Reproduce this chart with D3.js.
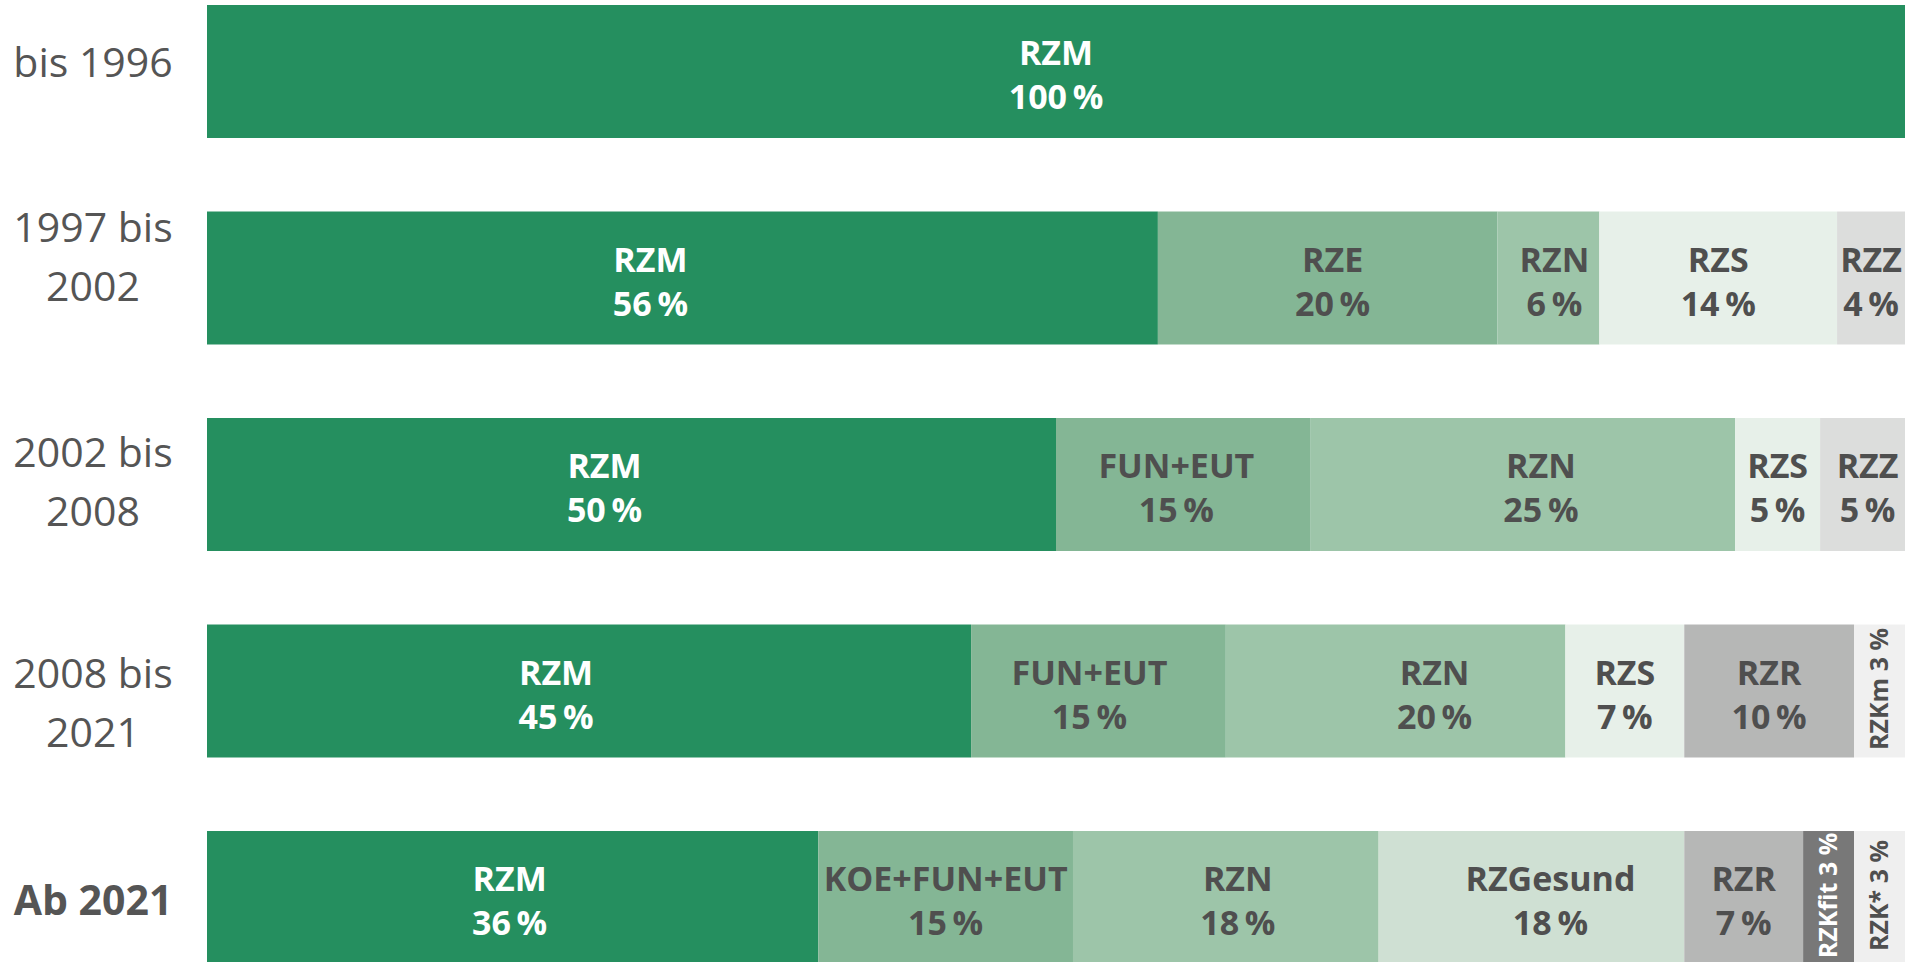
<!DOCTYPE html>
<html>
<head>
<meta charset="utf-8">
<script src="https://cdn.jsdelivr.net/npm/d3@7"></script>
<style>
	body { margin: 0; background: #fff; overflow: hidden; }
	svg { display: block; font-family: 'Open Sans', sans-serif; }
</style>
</head>
<body>
<div id="chart"></div>
<script>
/* Data */
var periods = ['bis 1996', '1997 bis 2002', '2002 bis 2008', '2008 bis 2021', 'Ab 2021'];
var periodLines = [['bis 1996'], ['1997 bis', '2002'], ['2002 bis', '2008'], ['2008 bis', '2021'], ['Ab 2021']];

var segNames = [
	['RZM'],
	['RZM', 'RZE', 'RZN', 'RZS', 'RZZ'],
	['RZM', 'FUN+EUT', 'RZN', 'RZS', 'RZZ'],
	['RZM', 'FUN+EUT', 'RZN', 'RZS', 'RZR', 'RZKm'],
	['RZM', 'KOE+FUN+EUT', 'RZN', 'RZGesund', 'RZR', 'RZKfit', 'RZK*']
];
var segValues = [
	[100],
	[56, 20, 6, 14, 4],
	[50, 15, 25, 5, 5],
	[45, 15, 20, 7, 10, 3],
	[36, 15, 18, 18, 7, 3, 3]
];

/* Styles */
var colors = {
	'RZM': '#258f5f',
	'RZE': '#84b695',
	'FUN+EUT': '#84b695',
	'KOE+FUN+EUT': '#84b695',
	'RZN': '#9dc5a9',
	'RZS': '#e7f0e9',
	'RZZ': '#dcdddc',
	'RZR': '#b6b7b6',
	'RZKm': '#f0f0f0',
	'RZGesund': '#cfe0d3',
	'RZKfit': '#787878',
	'RZK*': '#efefef'
};
var whiteText = ['RZM', 'RZKfit'];
var textGray = '#4f4f4f';

// label nudges (px) to follow the hand placed labels of the original
var labelDx = {
	'1-0': -32, '1-1': 5, '1-2': 6,
	'2-0': -27, '2-1': -7, '2-2': 18, '2-4': 5,
	'3-0': -33, '3-1': -9, '3-2': 39,
	'4-0': -3, '4-2': 12, '4-3': 19
};
// first baseline of the row titles, relative to the bar middle
var titleDy = [5.5, -36, -17.5, -3, 17.5];

var W = 1905, H = 962;

var svg = d3.select('#chart').append('svg')
	.attr('width', W)
	.attr('height', H);

var x = d3.scaleLinear().domain([0, 100]).range([207, 1905]);
var y = d3.scaleBand().domain(periods).range([5, 964]).paddingInner(0.356);

var rows = svg.selectAll('g.row')
	.data(periods)
	.enter().append('g')
	.attr('class', 'row')
	.attr('transform', function(d) { return 'translate(0,' + y(d) + ')'; });

rows.each(function(p, i) {
	var g = d3.select(this);
	var mid = y.bandwidth() / 2;

	// row title
	var title = g.append('text')
		.attr('x', 93)
		.attr('text-anchor', 'middle')
		.attr('fill', '#555')
		.attr('font-size', 41)
		.attr('font-weight', i === 4 ? 700 : 400);
	periodLines[i].forEach(function(line, k) {
		title.append('tspan')
			.attr('x', 93)
			.attr('y', mid + titleDy[i] + k * 59)
			.text(line);
	});

	// stacked segments
	var start = 0;
	var segs = segValues[i].map(function(v, j) {
		var s = {name: segNames[i][j], value: v, x0: start, x1: start + v, key: i + '-' + j};
		start += v;
		return s;
	});

	g.selectAll('rect')
		.data(segs)
		.enter().append('rect')
		.attr('x', function(d) { return x(d.x0); })
		.attr('y', 0)
		.attr('width', function(d) { return x(d.x1) - x(d.x0); })
		.attr('height', y.bandwidth())
		.attr('fill', function(d) { return colors[d.name]; });

	segs.forEach(function(d) {
		var cx = (x(d.x0) + x(d.x1)) / 2 + (labelDx[d.key] || 0);
		var fill = whiteText.indexOf(d.name) >= 0 ? '#fff' : textGray;
		if (d.value <= 3) {
			// narrow segments get a vertical label
			g.append('text')
				.attr('transform', 'translate(' + cx + ',' + (mid - 2) + ') rotate(-90)')
				.attr('text-anchor', 'middle')
				.attr('dy', '0.35em')
				.attr('font-size', 25)
				.attr('font-weight', 700)
				.attr('fill', fill)
				.text(d.name + ' ' + d.value + ' %');
		} else {
			g.append('text')
				.attr('x', cx)
				.attr('y', mid - 6)
				.attr('text-anchor', 'middle')
				.attr('font-size', 34)
				.attr('font-weight', 700)
				.attr('fill', fill)
				.text(d.name);
			g.append('text')
				.attr('x', cx)
				.attr('y', mid + 38)
				.attr('text-anchor', 'middle')
				.attr('font-size', 34)
				.attr('font-weight', 700)
				.attr('fill', fill)
				.text(d.value + '\u2009%');
		}
	});
});
</script>
</body>
</html>
